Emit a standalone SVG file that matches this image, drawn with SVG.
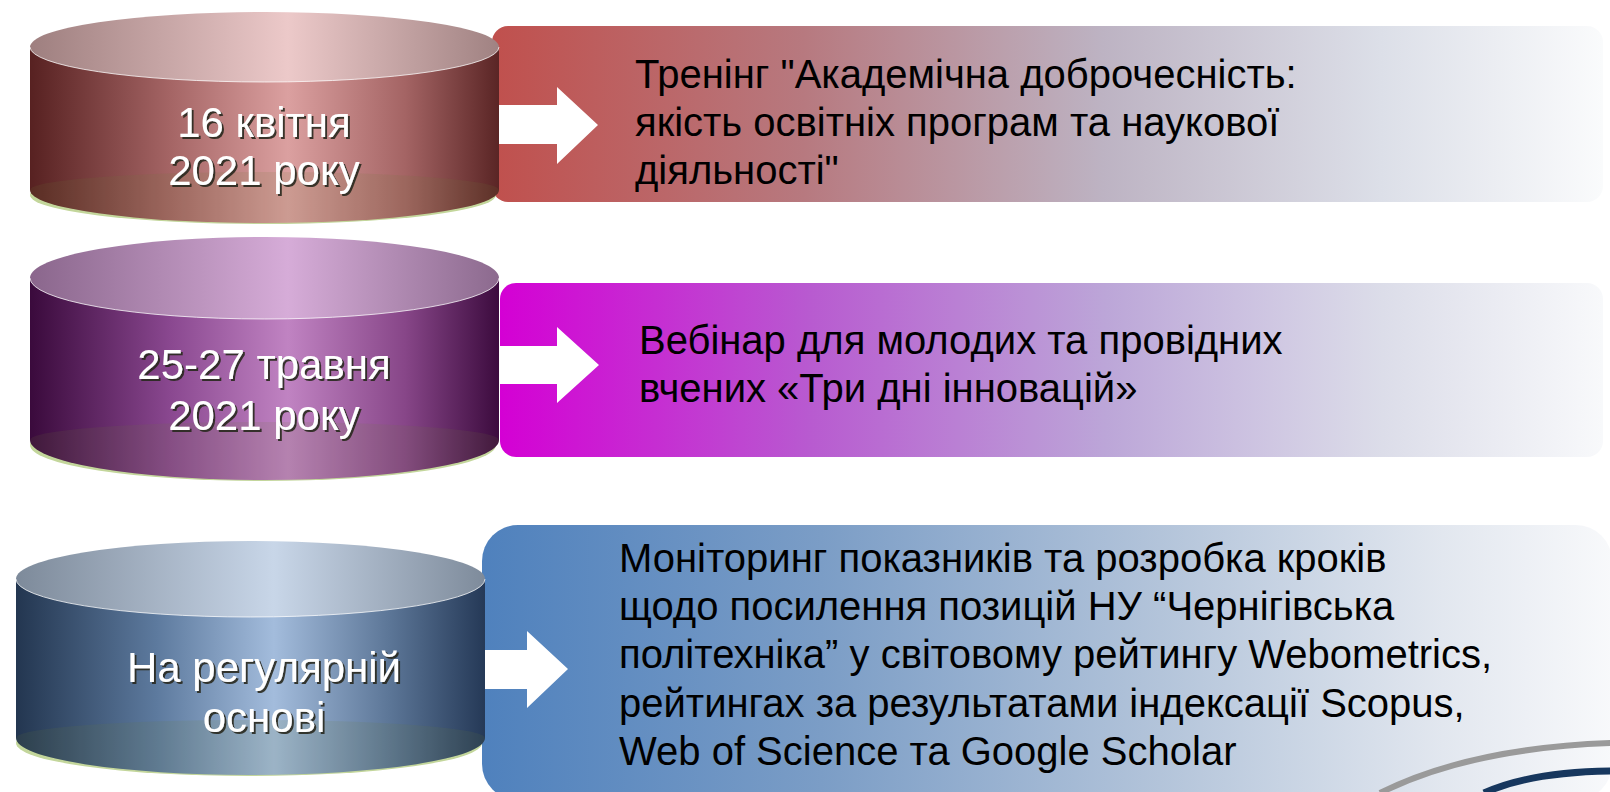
<svg xmlns="http://www.w3.org/2000/svg" width="1610" height="792" viewBox="0 0 1610 792">
<defs>
<style>
.lbl{font-family:"Liberation Sans",Arial,sans-serif;font-size:40px;fill:#000}
.cyl{font-family:"Liberation Sans",Arial,sans-serif;font-size:42px;fill:#fff;text-anchor:middle;filter:url(#ts)}
.arrow{fill:#fff}
.base{fill:#c3d69b}
.seam{fill:none;stroke:#fff;stroke-opacity:.75;stroke-width:1}
.inner{fill:#6f7f35;fill-opacity:.13}
</style>
<filter id="ts" x="-10%" y="-30%" width="130%" height="160%">
<feDropShadow dx="2" dy="2" stdDeviation="0.6" flood-color="#252a1e" flood-opacity="0.9"/>
</filter>
<linearGradient id="r1" x1="0" y1="0" x2="1" y2="0">
<stop offset="0" stop-color="#c0504d"/>
<stop offset="0.28" stop-color="#b7797f"/>
<stop offset="0.55" stop-color="#bdb3c3"/>
<stop offset="0.8" stop-color="#dcdfe8"/>
<stop offset="1" stop-color="#fafbfc"/>
</linearGradient>
<linearGradient id="r2" x1="0" y1="0" x2="1" y2="0">
<stop offset="0" stop-color="#d400d4"/>
<stop offset="0.28" stop-color="#b85ad0"/>
<stop offset="0.55" stop-color="#bca6d8"/>
<stop offset="0.8" stop-color="#dcdde9"/>
<stop offset="1" stop-color="#f8f9fb"/>
</linearGradient>
<linearGradient id="r3" x1="0" y1="0" x2="1" y2="0">
<stop offset="0" stop-color="#4f81bd"/>
<stop offset="0.3" stop-color="#7b9dc6"/>
<stop offset="0.6" stop-color="#b3c4da"/>
<stop offset="0.85" stop-color="#e2e7ef"/>
<stop offset="1" stop-color="#f8f9fb"/>
</linearGradient>
<linearGradient id="s1" x1="0" y1="0" x2="1" y2="0">
<stop offset="0" stop-color="#572121"/>
<stop offset="0.3" stop-color="#a56565"/>
<stop offset="0.55" stop-color="#dba0a0"/>
<stop offset="0.8" stop-color="#a46464"/>
<stop offset="1" stop-color="#5a2525"/>
</linearGradient>
<linearGradient id="t1" x1="0" y1="0" x2="1" y2="0">
<stop offset="0" stop-color="#9e7f7f"/>
<stop offset="0.55" stop-color="#ecc9c9"/>
<stop offset="1" stop-color="#a08282"/>
</linearGradient>
<linearGradient id="s2" x1="0" y1="0" x2="1" y2="0">
<stop offset="0" stop-color="#3a0a3c"/>
<stop offset="0.3" stop-color="#8a4890"/>
<stop offset="0.55" stop-color="#c083c2"/>
<stop offset="0.8" stop-color="#874688"/>
<stop offset="1" stop-color="#3c0b3e"/>
</linearGradient>
<linearGradient id="t2" x1="0" y1="0" x2="1" y2="0">
<stop offset="0" stop-color="#8a668c"/>
<stop offset="0.55" stop-color="#d6acd8"/>
<stop offset="1" stop-color="#8c6a8e"/>
</linearGradient>
<linearGradient id="s3" x1="0" y1="0" x2="1" y2="0">
<stop offset="0" stop-color="#233650"/>
<stop offset="0.3" stop-color="#5d7a9e"/>
<stop offset="0.55" stop-color="#a3bcdc"/>
<stop offset="0.8" stop-color="#5b7596"/>
<stop offset="1" stop-color="#253957"/>
</linearGradient>
<linearGradient id="t3" x1="0" y1="0" x2="1" y2="0">
<stop offset="0" stop-color="#7d8a9a"/>
<stop offset="0.55" stop-color="#c8d6e8"/>
<stop offset="1" stop-color="#7e8b9b"/>
</linearGradient>
</defs>
<rect width="1610" height="792" fill="#fff"/>

<g id="box1">
<rect x="492" y="26" width="1111" height="176" rx="16" fill="url(#r1)"/>
<text class="lbl" x="635" y="88">Тренінг "Академічна доброчесність:</text>
<text class="lbl" x="635" y="136">якість освітніх програм та наукової</text>
<text class="lbl" x="635" y="184">діяльності"</text>
</g>
<g id="box2">
<rect x="500" y="283" width="1103" height="174" rx="16" fill="url(#r2)"/>
<text class="lbl" x="639" y="354">Вебінар для молодих та провідних</text>
<text class="lbl" x="639" y="402">вчених «Три дні інновацій»</text>
</g>
<g id="box3">
<rect x="482" y="525" width="1130" height="275" rx="36" fill="url(#r3)"/>
<text class="lbl" x="619" y="572">Моніторинг показників та розробка кроків</text>
<text class="lbl" x="619" y="620">щодо посилення позицій НУ “Чернігівська</text>
<text class="lbl" x="619" y="668">політехніка” у світовому рейтингу Webometrics,</text>
<text class="lbl" x="619" y="717">рейтингах за результатами індексації Scopus,</text>
<text class="lbl" x="619" y="765">Web of Science та Google Scholar</text>
<path d="M1380,793 Q1470,748 1612,743" fill="none" stroke="#9a9a9a" stroke-width="6"/>
<path d="M1484,793 Q1530,772 1612,771" fill="none" stroke="#17375e" stroke-width="7"/>
</g>

<g id="connectors">
<path class="arrow" d="M470,105 H557 V87 L598,125 L557,164 V144 H470 Z"/>
<path class="arrow" d="M470,346 H557 V327 L599,365 L557,403 V384 H470 Z"/>
<path class="arrow" d="M460,650 H527 V631 L568,669 L527,708 V689 H460 Z"/>
</g>

<g id="cyl1">
<ellipse class="base" cx="263" cy="195" rx="233" ry="29"/>
<path d="M30,47 V190 A234.5,33 0 0 0 499,190 V47 Z" fill="url(#s1)"/>
<path class="inner" d="M30,190 A234.5,18 0 0 1 499,190 A234.5,33 0 0 1 30,190 Z"/>
<ellipse cx="264.5" cy="47" rx="234.5" ry="35" fill="url(#t1)"/>
<path class="seam" d="M30,47 A234.5,35 0 0 0 499,47"/>
<text class="cyl" x="264" y="137">16 квітня</text>
<text class="cyl" x="264" y="185">2021 року</text>
</g>
<g id="cyl2">
<ellipse class="base" cx="263" cy="445" rx="233" ry="36"/>
<path d="M30,278 V440 A234.5,40 0 0 0 499,440 V278 Z" fill="url(#s2)"/>
<path class="inner" d="M30,440 A234.5,18 0 0 1 499,440 A234.5,40 0 0 1 30,440 Z"/>
<ellipse cx="264.5" cy="278" rx="234.5" ry="41" fill="url(#t2)"/>
<path class="seam" d="M30,278 A234.5,41 0 0 0 499,278"/>
<text class="cyl" x="264" y="379">25-27 травня</text>
<text class="cyl" x="264" y="430">2021 року</text>
</g>
<g id="cyl3">
<ellipse class="base" cx="249" cy="743" rx="233" ry="33"/>
<path d="M16,579 V738 A234.5,37 0 0 0 485,738 V579 Z" fill="url(#s3)"/>
<path class="inner" d="M16,738 A234.5,18 0 0 1 485,738 A234.5,37 0 0 1 16,738 Z"/>
<ellipse cx="250.5" cy="579" rx="234.5" ry="38" fill="url(#t3)"/>
<path class="seam" d="M16,579 A234.5,38 0 0 0 485,579"/>
<text class="cyl" x="264" y="682">На регулярній</text>
<text class="cyl" x="264" y="732">основі</text>
</g>
</svg>
